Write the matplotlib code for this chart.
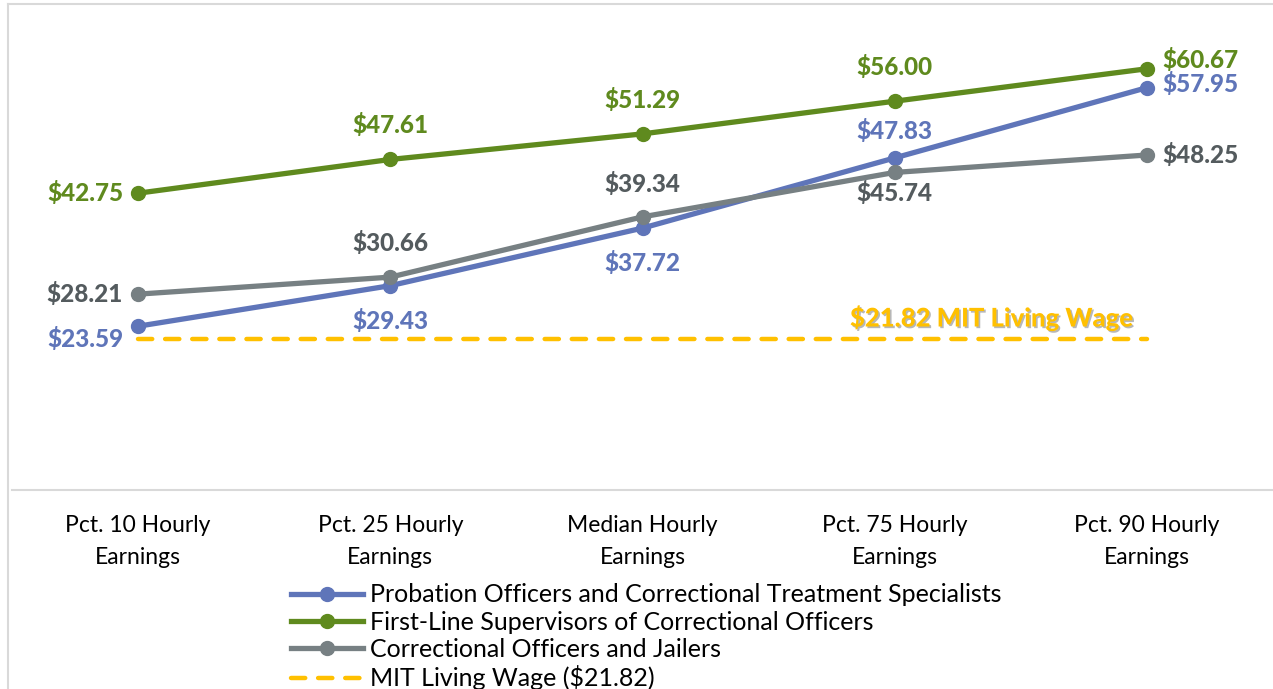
import matplotlib
matplotlib.use("Agg")
import matplotlib.pyplot as plt
import matplotlib.patheffects as pe
from matplotlib.lines import Line2D

plt.rcParams['font.family'] = ['Lato', 'DejaVu Sans']

# --- data ---
categories = ["Pct. 10 Hourly\nEarnings", "Pct. 25 Hourly\nEarnings", "Median Hourly\nEarnings",
              "Pct. 75 Hourly\nEarnings", "Pct. 90 Hourly\nEarnings"]
probation = [23.59, 29.43, 37.72, 47.83, 57.95]
supervisors = [42.75, 47.61, 51.29, 56.00, 60.67]
correctional = [28.21, 30.66, 39.34, 45.74, 48.25]
living_wage = 21.82

names = ["Probation Officers and Correctional Treatment Specialists",
         "First-Line Supervisors of Correctional Officers",
         "Correctional Officers and Jailers"]

BLUE = "#5F75B9"
GREEN = "#5F8A1E"
GRAY = "#778083"
GRAY_TXT = "#545B5E"
GOLD = "#FFC000"

# label offsets in pixels (dx, dy) and horizontal alignment
off_blue = [(-15, -13, 'right'), (0, -35, 'center'), (0, -35, 'center'), (0, 27, 'center'), (15, 4, 'left')]
off_green = [(-15, 0, 'right'), (0, 34, 'center'), (0, 34, 'center'), (0, 34, 'center'), (15, 9, 'left')]
off_gray = [(-15, 0, 'right'), (0, 34, 'center'), (0, 33, 'center'), (0, -21, 'center'), (15, 0, 'left')]

W, H = 1273, 689
fig = plt.figure(figsize=(W / 100, H / 100), dpi=100)
ax = fig.add_axes([12 / W, (H - 490) / H, (W - 12) / W, (490 - 4) / H])

x = list(range(len(categories)))

ax.plot([x[0], x[-1]], [living_wage, living_wage], color=GOLD, lw=3.2,
        dashes=(3.2, 2.9), dash_capstyle='round', zorder=2)
ax.plot(x, probation, color=BLUE, lw=3.8, marker='o', ms=10, zorder=3)
ax.plot(x, supervisors, color=GREEN, lw=3.8, marker='o', ms=10, zorder=3)
ax.plot(x, correctional, color=GRAY, lw=3.8, marker='o', ms=10, zorder=4)

for vals, offs, col in [(probation, off_blue, BLUE), (supervisors, off_green, GREEN),
                        (correctional, off_gray, GRAY_TXT)]:
    for xi, v, (dx, dy, ha) in zip(x, vals, offs):
        ax.annotate(f"${v:.2f}", (xi, v), xytext=(dx, dy), textcoords='offset pixels',
                    ha=ha, va='center', fontsize=17.5, fontweight='black', color=col)

ax.annotate(f"${living_wage:.2f} MIT Living Wage", (3.386, living_wage), xytext=(0, 21),
            textcoords='offset pixels', ha='center', va='center', fontsize=18.5,
            fontweight='black', color=GOLD,
            path_effects=[pe.withSimplePatchShadow(offset=(1.2, -1.2), shadow_rgbFace='#888888', alpha=0.6)])

ax.set_xlim(-0.5, 4.5)
ax.set_ylim(0, 70)
ax.set_xticks(x)
ax.set_xticklabels(categories, fontsize=16.5, linespacing=1.65)
ax.tick_params(axis='x', length=0, pad=18)
ax.set_yticks([])
for s in ['left', 'right', 'top']:
    ax.spines[s].set_visible(False)
ax.spines['bottom'].set_color('#D9D9D9')
ax.spines['bottom'].set_linewidth(1.5)

# chart frame
fig.add_artist(Line2D([8 / W, 8 / W], [0, (H - 4) / H], color='#D9D9D9', lw=1.5))
fig.add_artist(Line2D([8 / W, 1], [(H - 4) / H, (H - 4) / H], color='#D9D9D9', lw=1.5))

handles = [Line2D([], [], color=BLUE, lw=3.8, marker='o', ms=10),
           Line2D([], [], color=GREEN, lw=3.8, marker='o', ms=10),
           Line2D([], [], color=GRAY, lw=3.8, marker='o', ms=10),
           Line2D([], [], color=GOLD, lw=3.2, dashes=(3.2, 2.9), dash_capstyle='round')]
labels = names + [f"MIT Living Wage (${living_wage:.2f})"]
fig.legend(handles, labels, loc='upper center', bbox_to_anchor=(646 / W, (H - 571) / H),
           frameon=False, fontsize=18, handlelength=2.9, handletextpad=0.25,
           labelspacing=0.17, borderpad=0)

fig.savefig("out.png", dpi=100)
